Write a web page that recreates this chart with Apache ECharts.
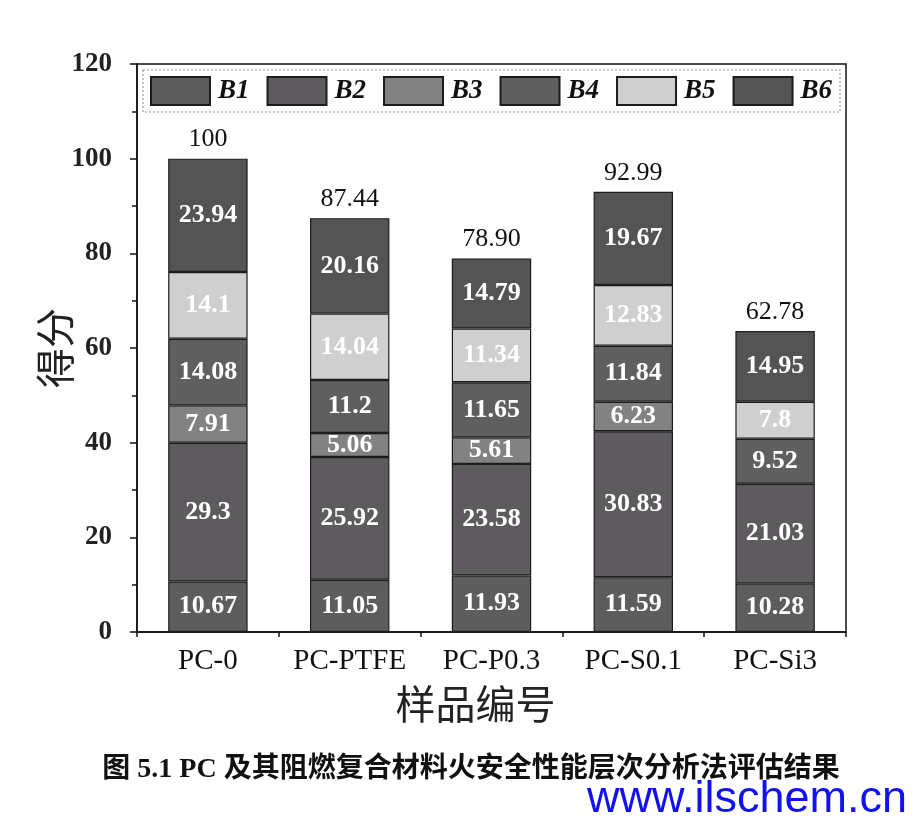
<!DOCTYPE html>
<html><head><meta charset="utf-8">
<script src="https://cdn.jsdelivr.net/npm/echarts@6/dist/echarts.min.js"></script>
<style>html,body{margin:0;padding:0;background:#fff}#c{width:922px;height:816px}</style>
</head><body><div id="c"></div>
<script>
var categories = ['PC-0', 'PC-PTFE', 'PC-P0.3', 'PC-S0.1', 'PC-Si3'];
var seriesNames = ['B1', 'B2', 'B3', 'B4', 'B5', 'B6'];
var B1 = [10.67, 11.05, 11.93, 11.59, 10.28];
var B2 = [29.3, 25.92, 23.58, 30.83, 21.03];
var B3 = [7.91, 5.06, 5.61, 6.23, null];
var B4 = [14.08, 11.2, 11.65, 11.84, 9.52];
var B5 = [14.1, 14.04, 11.34, 12.83, 7.8];
var B6 = [23.94, 20.16, 14.79, 19.67, 14.95];
var totalLabels = ['100', '87.44', '78.90', '92.99', '62.78'];
var yTicks = [0, 20, 40, 60, 80, 100, 120];

var colors = ['#5d5d5d', '#5e5b5f', '#828282', '#5f5f5f', '#cfcfcf', '#545454'];
var values = [B1, B2, B3, B4, B5, B6];
var serif = '"Liberation Serif", "Times New Roman", serif';
var cjk = '"Noto Sans CJK SC", sans-serif';

var series = seriesNames.map(function (n, i) {
  return {
    name: n, type: 'bar', stack: 'total', barWidth: '56%',
    data: values[i],
    itemStyle: { color: colors[i], borderColor: '#1c1c1c', borderWidth: 1.2 },
    label: {
      show: true, position: 'inside', color: '#fff',
      fontFamily: serif, fontWeight: 'bold', fontSize: 26,
      formatter: function (p) { return p.value == null ? '' : String(p.value); }
    }
  };
});
series.push({
  name: 'Total', type: 'bar', stack: 'total', barWidth: '56%',
  data: categories.map(function () { return 0; }),
  itemStyle: { color: 'transparent', borderWidth: 0 },
  label: {
    show: true, position: 'top', distance: 6, color: '#111',
    fontFamily: serif, fontSize: 26,
    formatter: function (p) { return totalLabels[p.dataIndex]; }
  }
});

var chart = echarts.init(document.getElementById('c'));
chart.setOption({
  animation: false,
  backgroundColor: '#fff',
  grid: { left: 137, right: 76, top: 64, bottom: 184, show: true, borderColor: '#111', borderWidth: 1.5, backgroundColor: 'transparent' },
  legend: {
    data: seriesNames, left: 150, top: 76, itemWidth: 59, itemHeight: 28, itemGap: 17,
    padding: 0,
    textStyle: { fontFamily: serif, fontStyle: 'italic', fontWeight: 'bold', fontSize: 27, color: '#111', padding: [0, 0, 0, 3] },
    icon: 'rect'
  },
  xAxis: [{
    type: 'category', data: categories, position: 'bottom',
    axisLine: { lineStyle: { color: '#111', width: 1.5 } },
    axisTick: { alignWithLabel: true, inside: false, length: 7, lineStyle: { color: '#111', width: 1.5 } },
    axisLabel: { interval: 0, fontFamily: serif, fontSize: 29, color: '#111', margin: 15 },
    name: '样品编号', nameLocation: 'middle', nameGap: 52,
    nameTextStyle: { fontFamily: cjk, fontSize: 40, color: '#222', padding: [0, 32, 0, 0] }
  }, {
    type: 'category', data: categories, position: 'bottom',
    axisLine: { show: false },
    axisTick: { show: true, alignWithLabel: false, length: 5, lineStyle: { color: '#111', width: 1.5 } },
    axisLabel: { show: false }
  }],
  yAxis: {
    type: 'value', min: 0, max: 120, interval: 20,
    splitLine: { show: false },
    axisLine: { show: true, lineStyle: { color: '#111', width: 1.5 } },
    axisTick: { show: true, length: 7, lineStyle: { color: '#111', width: 1.5 } },
    minorTick: { show: true, splitNumber: 2, length: 5, lineStyle: { color: '#111', width: 1.5 } },
    axisLabel: { fontFamily: serif, fontWeight: 'bold', fontSize: 27, color: '#222', margin: 25,
      formatter: function (v) { return yTicks.indexOf(v) >= 0 ? String(v) : ''; } },
    name: '得分', nameLocation: 'middle', nameGap: 62, nameMoveOverlap: false,
    nameTextStyle: { fontFamily: cjk, fontSize: 40, color: '#222', padding: [0, 0, 0, 0] }
  },
  title: [{
    text: '图 5.1 PC 及其阻燃复合材料火安全性能层次分析法评估结果',
    left: 466, top: 751, textAlign: 'center',
    textStyle: { fontFamily: '"Liberation Serif", "Noto Sans CJK SC", serif', fontWeight: 'bold', fontSize: 28, color: '#111' }
  }, {
    text: 'www.ilschem.cn', left: 582, top: 772,
    textStyle: { fontFamily: '"Liberation Sans", Arial, sans-serif', fontWeight: 'normal', fontSize: 45, color: '#1212ee' }
  }],
  graphic: [{
    type: 'rect', shape: { x: 143, y: 70, width: 697, height: 42 },
    style: { fill: 'transparent', stroke: '#999', lineWidth: 1.2, lineDash: [2, 2] }, z: 1
  }],
  series: series
});
</script>
</body></html>
